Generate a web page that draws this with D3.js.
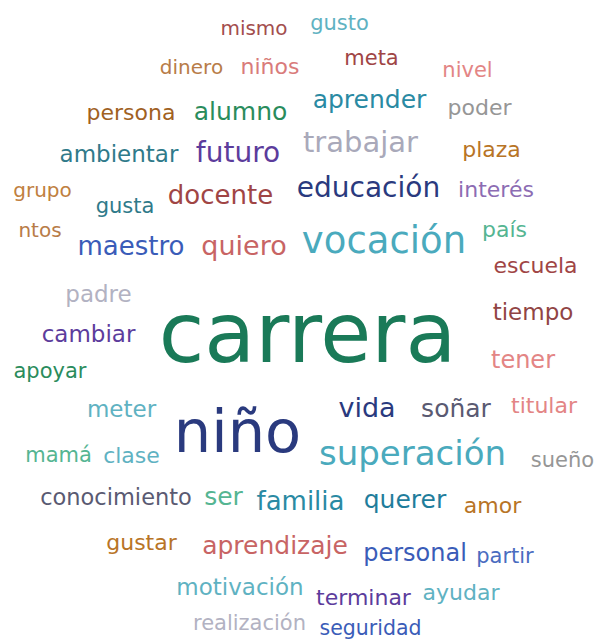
<!DOCTYPE html>
<html>
<head>
<meta charset="utf-8">
<script src="https://cdn.jsdelivr.net/npm/d3@7"></script>
<style>
	html, body { margin: 0; padding: 0; background: #fff; }
	svg { display: block; }
</style>
</head>
<body>
<div id="chart"></div>
<script>
(function () {
	'use strict';

	// words and their weight
	var words = ["mismo", "gusto", "dinero", "niños", "meta", "nivel", "persona", "alumno", "aprender", "poder",
		"ambientar", "futuro", "trabajar", "plaza", "grupo", "gusta", "docente", "educación", "interés", "ntos",
		"maestro", "quiero", "vocación", "país", "escuela", "padre", "carrera", "tiempo", "cambiar", "tener",
		"apoyar", "meter", "vida", "soñar", "titular", "niño", "mamá", "clase", "superación", "sueño",
		"conocimiento", "ser", "familia", "querer", "amor", "gustar", "aprendizaje", "personal", "partir", "motivación",
		"terminar", "ayudar", "realización", "seguridad"];
	var counts = [20, 21, 20, 22, 21, 21, 22, 25, 25, 22,
		23, 28, 29, 22, 20, 21, 26, 28, 22, 20,
		26, 27, 37, 22, 22, 23, 83, 23, 23, 24,
		21, 23, 27, 25, 22, 59, 21, 22, 34, 21,
		22.5, 25, 26, 25, 22, 22, 25, 24, 21, 23,
		22, 22, 21, 20.5];

	// colour group of each word
	var groups = [0, 1, 2, 3, 4, 5, 6, 7, 8, 9,
		10, 11, 12, 13, 14, 10, 4, 15, 16, 2,
		17, 18, 19, 20, 4, 21, 22, 23, 11, 5,
		7, 1, 15, 24, 5, 15, 20, 1, 19, 9,
		24, 20, 8, 25, 13, 13, 18, 17, 26, 1,
		11, 1, 21, 17];
	var palette = ["#a34e4e", "#5fb2c2", "#b87c48", "#d97b7b", "#a04545", "#e38585", "#a0611f", "#2a8c5c",
		"#2a8aa3", "#969696", "#2f7a8a", "#5c3c9c", "#a9a9ba", "#b87426", "#c08040", "#2a3a7e",
		"#8c6cb3", "#3a5cb8", "#c86464", "#4aaabd", "#55b592", "#b2b2c2", "#1a7a58", "#914444",
		"#5a5a72", "#1f7d9c", "#4a6cc0"];

	// placement of each word: centre x, baseline y (cloud layout units)
	var layoutX = [254, 339.5, 191.5, 270, 371.5, 467.5, 131, 240.5, 369.5, 479.5,
		119, 238, 360.5, 491.5, 42.5, 125, 220.5, 368.5, 496, 40,
		131, 244, 384, 504.5, 535.5, 98.5, 307.5, 533, 88.5, 523,
		50, 121.5, 367, 456, 544, 237.5, 58.5, 131.5, 412.5, 562.5,
		116, 223.5, 300.5, 405, 492.5, 141.5, 275, 415, 505, 240,
		363.5, 461, 249.5, 370.5];
	var layoutY = [35, 30, 74, 74, 65, 77, 120, 120, 108, 115,
		162, 162, 152, 157, 197, 213, 204, 197, 197, 237,
		255, 255, 253, 237, 273, 302, 362, 320, 342, 368,
		378, 417, 417, 417, 413, 452, 462, 463, 465, 467,
		505, 505, 510, 508, 513, 550, 554, 561, 563, 595,
		605, 600, 630, 635];

	var width = 599, height = 640;

	var svg = d3.select("#chart")
		.append("svg")
		.attr("width", width)
		.attr("height", height);

	var x = d3.scaleLinear().domain([0, 599]).range([0, width]);
	var y = d3.scaleLinear().domain([0, 640]).range([0, height]);
	var size = d3.scaleLinear().domain([20, 83]).range([20, 83]);
	var color = d3.scaleOrdinal().domain(d3.range(palette.length)).range(palette);

	var data = words.map(function (w, i) {
		return { text: w, count: counts[i], group: groups[i], lx: layoutX[i], ly: layoutY[i] };
	});

	svg.append("g")
		.selectAll("text")
		.data(data)
		.enter()
			.append("text")
			.attr("text-anchor", "middle")
			.attr("x", function (d) { return x(d.lx); })
			.attr("y", function (d) { return y(d.ly); })
			.style("font-family", "'DejaVu Sans', Verdana, sans-serif")
			.style("font-size", function (d) { return size(d.count) + "px"; })
			.style("fill", function (d) { return color(d.group); })
			.text(function (d) { return d.text; });
}());
</script>
</body>
</html>
